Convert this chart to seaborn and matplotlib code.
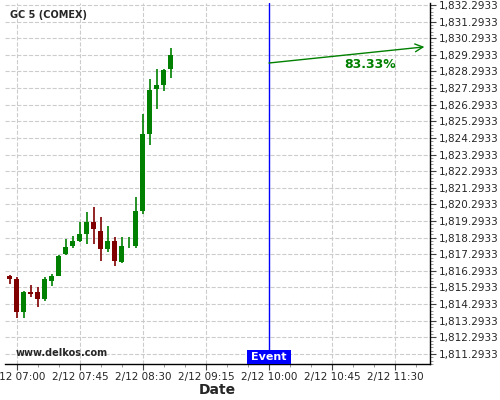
import pandas as pd
import numpy as np
import matplotlib
matplotlib.use("Agg")
import matplotlib.pyplot as plt
import matplotlib.dates as mdates
import matplotlib.ticker as mticker
import matplotlib.patches as mpatches
import seaborn as sns

# ── Data (5-min candles) ───────────────────────────────────
times = pd.date_range("2021-02-12 06:55", periods=24, freq="5min")
opens = [1815.99, 1815.81, 1813.84, 1815.02, 1815.01, 1814.60, 1815.70, 1816.01,
         1817.31, 1817.81, 1818.11, 1818.53, 1819.22, 1818.69, 1817.61, 1818.08,
         1816.85, 1817.96, 1817.79, 1819.92, 1824.55, 1827.26, 1827.50, 1828.46]
closes = [1815.82, 1813.84, 1815.02, 1814.92, 1814.62, 1815.81, 1815.99, 1817.19,
          1817.73, 1818.09, 1818.51, 1819.22, 1818.83, 1817.63, 1818.08, 1816.91,
          1817.79, 1817.97, 1819.90, 1824.53, 1827.18, 1827.48, 1828.36, 1829.29]
highs = [1816.07, 1815.91, 1815.10, 1815.46, 1815.31, 1815.91, 1816.11, 1817.22,
         1818.20, 1818.39, 1819.22, 1819.82, 1820.16, 1819.51, 1818.99, 1818.31,
         1818.31, 1818.31, 1820.76, 1825.73, 1827.82, 1828.43, 1828.43, 1829.69]
lows = [1815.51, 1813.44, 1813.44, 1814.70, 1814.14, 1814.50, 1815.39, 1815.98,
        1817.25, 1817.69, 1818.02, 1817.89, 1817.89, 1816.89, 1817.45, 1816.59,
        1816.75, 1817.66, 1817.69, 1819.70, 1823.85, 1826.02, 1827.14, 1827.92]

event_time = pd.Timestamp("2021-02-12 10:00")
arrow_end_time = pd.Timestamp("2021-02-12 11:51")
arrow_start_price = 1828.80
arrow_end_price = 1829.77
prob_label = "83.33%"

sns.set_theme(style="whitegrid")
plt.rcParams["font.family"] = ["DejaVu Sans"]

df = pd.DataFrame({"time": times, "open": opens, "close": closes,
                   "high": highs, "low": lows})
df["up"] = df["close"] >= df["open"]
df["color"] = np.where(df["up"], "#008000", "#800000")

fig = plt.figure(figsize=(5, 4), dpi=100)
ax = fig.add_axes([0.01, 0.09, 0.85, 0.9025])
ax.set_facecolor("white")

# ── Candles ────────────────────────────────────────────────
xs = mdates.date2num(df["time"])
ax.vlines(xs, df["low"], df["high"], colors=df["color"], linewidth=1.2, zorder=3)
body_lo = np.minimum(df["open"], df["close"])
body_h = np.maximum(np.abs(df["close"] - df["open"]), 0.03)
ax.bar(xs, body_h, bottom=body_lo, width=3.6 / 1440, color=df["color"],
       linewidth=0, zorder=4)

# ── Event line + projection arrow ──────────────────────────
ax.axvline(event_time, color="#0000ff", linewidth=1, zorder=5)
ax.annotate("", xy=(arrow_end_time, arrow_end_price),
            xytext=(event_time, arrow_start_price),
            arrowprops=dict(arrowstyle="->", color="#008000", lw=1,
                            mutation_scale=14, shrinkA=0, shrinkB=0), zorder=6)
ax.text(pd.Timestamp("2021-02-12 11:12"), 1828.72, prob_label, color="#008000",
        fontsize=9, fontweight="bold", ha="center", va="center", zorder=6)

trans = matplotlib.transforms.blended_transform_factory(ax.transData, ax.transAxes)
ev = mdates.date2num(event_time)
box_half = 15.7 / 1440
ax.add_patch(mpatches.Rectangle((ev - box_half, 0), 2 * box_half, 0.039,
                                transform=trans, fc="#0000ff", ec="none",
                                zorder=7, clip_on=False))
ax.text(event_time, 0.0195, "Event", transform=trans, color="white", fontsize=8,
        fontweight="bold", ha="center", va="center", zorder=8)

ax.text(0.012, 0.968, "GC 5 (COMEX)", transform=ax.transAxes, fontsize=7,
        fontweight="bold", ha="left", va="center")
ax.text(0.024, 0.03, "www.delkos.com", transform=ax.transAxes, fontsize=7,
        fontweight="bold", ha="left", va="center")

# ── Axes styling ───────────────────────────────────────────
ax.set_xlim(pd.Timestamp("2021-02-12 06:51:30"), pd.Timestamp("2021-02-12 11:55"))
ax.set_ylim(1810.69, 1832.41)

ticks = pd.date_range("2021-02-12 07:00", "2021-02-12 11:30", freq="45min")
ax.set_xticks(mdates.date2num(ticks))
ax.xaxis.set_major_formatter(mdates.DateFormatter("%-m/%d %H:%M"))
ax.xaxis.set_minor_locator(mdates.MinuteLocator(byminute=[0, 15, 30, 45]))

ax.yaxis.tick_right()
ax.yaxis.set_major_locator(mticker.FixedLocator(np.arange(1811.2933, 1832.3, 1.0)))
ax.yaxis.set_minor_locator(mticker.FixedLocator(np.arange(1810.6933, 1832.4, 0.2)))
ax.yaxis.set_major_formatter(mticker.FuncFormatter(lambda v, p: f"{v:,.4f}"))

ax.tick_params(axis="both", which="major", labelsize=7.5, length=4, width=0.8,
               color="#444444", pad=2)
ax.tick_params(axis="both", which="minor", length=2, width=0.6, color="#888888")
ax.tick_params(axis="y", which="both", right=True, left=False, labelright=True,
               labelleft=False)
ax.tick_params(axis="x", which="both", bottom=True)

ax.grid(True, which="major", color="#cccccc", linestyle="--", linewidth=0.8)
ax.grid(False, which="minor")
for side in ["top", "left"]:
    ax.spines[side].set_visible(False)
for side in ["right", "bottom"]:
    ax.spines[side].set_visible(True)
    ax.spines[side].set_color("black")
    ax.spines[side].set_linewidth(1)

ax.set_xlabel("Date", fontsize=10, fontweight="bold")
ax.xaxis.set_label_coords(0.5, -0.052)

fig.savefig("out.png", dpi=100, facecolor="white")
plt.close(fig)
